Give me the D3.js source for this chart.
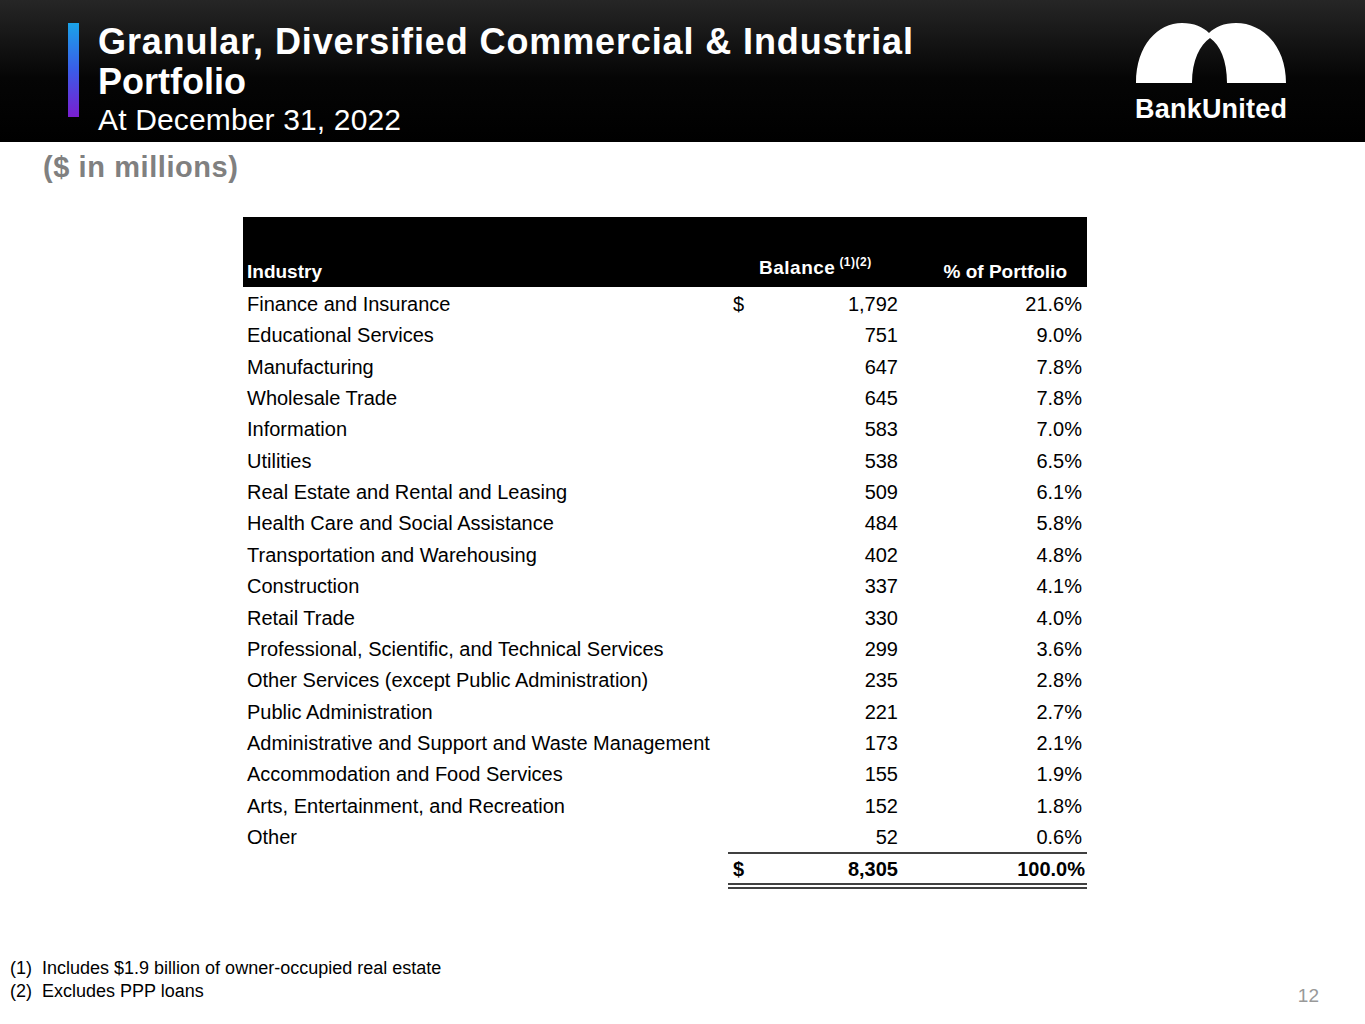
<!DOCTYPE html>
<html><head><meta charset="utf-8">
<script src="https://cdn.jsdelivr.net/npm/d3@7"></script>
<style>body{margin:0;background:#fff}svg{display:block;font-family:"Liberation Sans",Arial,sans-serif}text{white-space:pre}</style>
</head><body><div id="chart"></div>
<script>
const industries = ["Finance and Insurance","Educational Services","Manufacturing","Wholesale Trade","Information","Utilities","Real Estate and Rental and Leasing","Health Care and Social Assistance","Transportation and Warehousing","Construction","Retail Trade","Professional, Scientific, and Technical Services","Other Services (except Public Administration)","Public Administration","Administrative and Support and Waste Management","Accommodation and Food Services","Arts, Entertainment, and Recreation","Other"];
const balances = [1792,751,647,645,583,538,509,484,402,337,330,299,235,221,173,155,152,52];
const shares = [21.6,9.0,7.8,7.8,7.0,6.5,6.1,5.8,4.8,4.1,4.0,3.6,2.8,2.7,2.1,1.9,1.8,0.6];
const totalBalance = 8305, totalShare = 100.0;
const footnotes = ["(1)  Includes $1.9 billion of owner-occupied real estate","(2)  Excludes PPP loans"];

const W = 1365, H = 1024;
const svg = d3.select("#chart").append("svg").attr("width", W).attr("height", H);
const defs = svg.append("defs");
const bg = defs.append("linearGradient").attr("id","hdr").attr("x1",0).attr("y1",0).attr("x2",0).attr("y2",1);
bg.append("stop").attr("offset","0%").attr("stop-color","#262626");
bg.append("stop").attr("offset","55%").attr("stop-color","#050505");
bg.append("stop").attr("offset","100%").attr("stop-color","#000");
const ac = defs.append("linearGradient").attr("id","acc").attr("x1",0).attr("y1",0).attr("x2",0).attr("y2",1);
ac.append("stop").attr("offset","0%").attr("stop-color","#1aa3e8");
ac.append("stop").attr("offset","50%").attr("stop-color","#3a5ce8");
ac.append("stop").attr("offset","100%").attr("stop-color","#7a1ed0");

// header band
svg.append("rect").attr("width", W).attr("height", 142).attr("fill","url(#hdr)");
svg.append("rect").attr("x",68).attr("y",23).attr("width",11).attr("height",94).attr("fill","url(#acc)");
svg.append("text").attr("x",98).attr("y",54).attr("fill","#fff").attr("font-size",36).attr("font-weight","bold").attr("textLength",815).text("Granular, Diversified Commercial & Industrial");
svg.append("text").attr("x",98).attr("y",94).attr("fill","#fff").attr("font-size",36).attr("font-weight","bold").text("Portfolio");
svg.append("text").attr("x",98).attr("y",130).attr("fill","#fff").attr("font-size",30).attr("textLength",303).text("At December 31, 2022");

// logo: two joined arches
svg.append("path").attr("fill","#fff")
  .attr("d","M1136,83 C1136,45 1158,23 1182,23 C1194,23 1203,27 1209,33 C1215,27 1224,23 1236,23 C1262,23 1286,45 1286,83 L1227,83 C1227,60 1220,45 1210,38 C1200,45 1192,60 1192,83 Z");
svg.append("text").attr("x",1211).attr("y",118).attr("text-anchor","middle").attr("fill","#fff").attr("font-size",27).attr("font-weight","bold").attr("textLength",152).text("BankUnited");

svg.append("text").attr("x",43).attr("y",177).attr("fill","#808080").attr("font-size",29).attr("font-weight","bold").attr("textLength",195).text("($ in millions)");

// table
const xL = 243, xR = 1087, xDollar = 733, xBal = 898, xPct = 1082;
const y = d3.scaleLinear().domain([0, industries.length - 1]).range([304, 837]);
svg.append("rect").attr("x",xL).attr("y",217).attr("width",xR-xL).attr("height",70).attr("fill","#000");
svg.append("text").attr("x",247).attr("y",278).attr("fill","#fff").attr("font-size",19).attr("font-weight","bold").text("Industry");
const bal = svg.append("text").attr("x",759).attr("y",274).attr("fill","#fff").attr("font-size",19).attr("font-weight","bold").attr("letter-spacing",0.5).text("Balance");
bal.append("tspan").attr("dy",-8).attr("font-size",12).attr("dx",4).text("(1)(2)");
svg.append("text").attr("x",1067).attr("y",278).attr("text-anchor","end").attr("fill","#fff").attr("font-size",19).attr("font-weight","bold").text("% of Portfolio");

const fmt = d3.format(",");
const rows = svg.append("g").selectAll("g").data(industries).join("g")
  .attr("transform",(d,i)=>`translate(0,${y(i)})`).attr("font-size",20).attr("fill","#000");
rows.append("text").attr("x",247).attr("dy","0.35em").text(d=>d);
rows.append("text").attr("x",xBal).attr("dy","0.35em").attr("text-anchor","end").text((d,i)=>fmt(balances[i]));
rows.append("text").attr("x",xPct).attr("dy","0.35em").attr("text-anchor","end").text((d,i)=>shares[i].toFixed(1)+"%");
svg.append("text").attr("x",xDollar).attr("y",y(0)).attr("dy","0.35em").attr("font-size",20).text("$");

const yT = y(industries.length - 1) + (y(1) - y(0)) + 1;
svg.append("line").attr("x1",728).attr("x2",xR).attr("y1",853).attr("y2",853).attr("stroke","#000").attr("stroke-width",1.5);
const tot = svg.append("g").attr("font-size",20).attr("font-weight","bold");
tot.append("text").attr("x",xDollar).attr("y",yT).attr("dy","0.35em").text("$");
tot.append("text").attr("x",xBal).attr("y",yT).attr("dy","0.35em").attr("text-anchor","end").text(fmt(totalBalance));
tot.append("text").attr("x",1085).attr("y",yT).attr("dy","0.35em").attr("text-anchor","end").text(totalShare.toFixed(1)+"%");
[884,888].forEach(v=>svg.append("line").attr("x1",728).attr("x2",xR).attr("y1",v).attr("y2",v).attr("stroke","#000").attr("stroke-width",1.5));

svg.append("g").selectAll("text").data(footnotes).join("text")
  .attr("x",10).attr("y",(d,i)=>974+i*23).attr("font-size",18).text(d=>d);
svg.append("text").attr("x",1319).attr("y",1002).attr("text-anchor","end").attr("fill","#999").attr("font-size",19).text("12");
</script></body></html>
